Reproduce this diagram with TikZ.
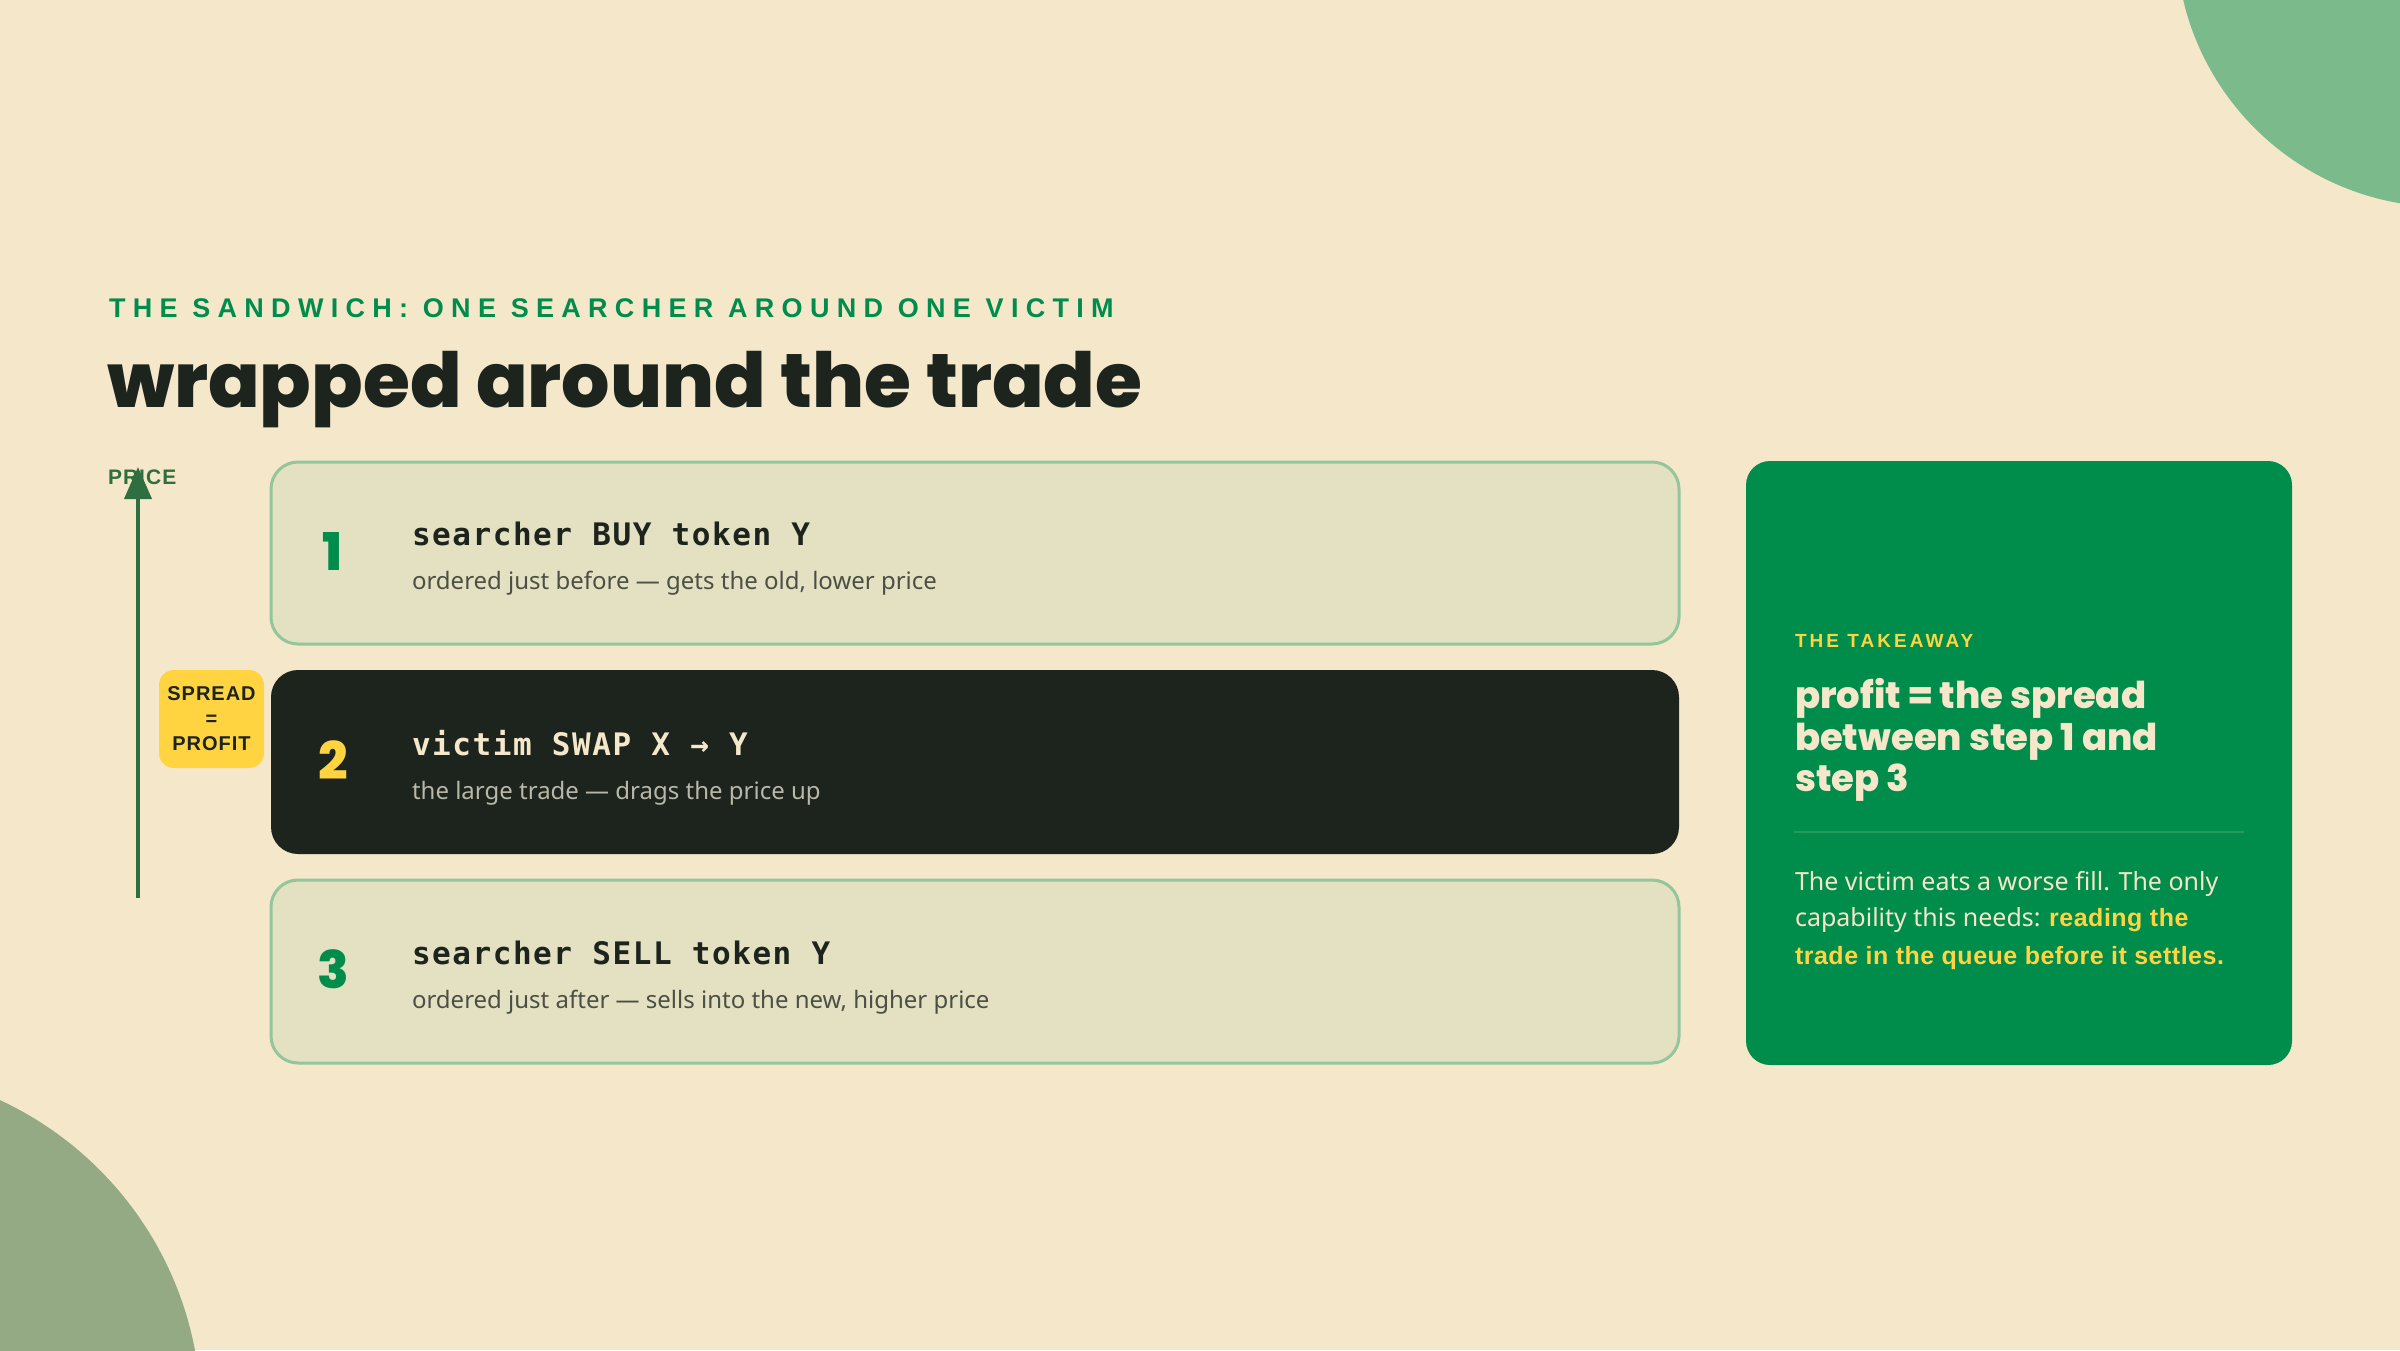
\documentclass[tikz,border=0pt]{standalone}
\usepackage{fontspec}
\usetikzlibrary{arrows.meta}
\setmainfont{Noto Sans}[BoldFont={Liberation Sans Bold}, BoldFeatures={LetterSpace=2}]
\newfontfamily\lblf{Liberation Sans}[LetterSpace=5]
\newfontfamily\monob{DejaVu Sans Mono}[LetterSpace=5]
\IfFontExistsTF{Poppins ExtraBold}{\newfontfamily\heavy{Poppins}[BoldFont={Poppins ExtraBold}]}{\newfontfamily\heavy{Poppins}}
\newfontfamily\capsf{Liberation Sans}[LetterSpace=27]
\newfontfamily\capsg{Liberation Sans}[LetterSpace=16]
\definecolor{bg}{HTML}{F5E7CA}
\definecolor{boxfill}{HTML}{E4E1C2}
\definecolor{boxline}{HTML}{94C69C}
\definecolor{ink}{HTML}{1C241D}
\definecolor{brandgreen}{HTML}{008C4B}
\definecolor{sunny}{HTML}{FFD440}
\definecolor{axisgreen}{HTML}{2F6F3F}
\definecolor{blobA}{HTML}{7BBA8A}
\definecolor{blobB}{HTML}{93AA84}
\definecolor{subgray}{HTML}{4B4F44}
\definecolor{subpale}{HTML}{B9B8A8}
\definecolor{cream}{HTML}{F5E7CA}
\definecolor{rulegreen}{HTML}{2A9A5C}
\begin{document}
\begin{tikzpicture}[x=1pt,y=-1pt,
  txt/.style={anchor=base west, inner sep=0pt, outer sep=0pt},
  stepbox/.style={rectangle, rounded corners=27pt, inner sep=0pt, minimum width=1408pt},
  lightbox/.style={stepbox, fill=boxfill, draw=boxline, line width=3pt},
  darkbox/.style={stepbox, fill=ink},
  numlbl/.style={anchor=base, inner sep=0pt, font={\fontsize{52}{56}\selectfont\heavy\bfseries}},
  monolbl/.style={txt, font={\fontsize{31}{36}\selectfont\monob\bfseries}},
  sublbl/.style={txt, font={\fontsize{24}{28}\selectfont}},
  bodylbl/.style={txt, font={\fontsize{25}{30}\selectfont}, text=cream},
  headlbl/.style={txt, font={\fontsize{37}{42}\selectfont\heavy\bfseries}, text=cream},
]
\useasboundingbox (0,0) rectangle (2400,1350);
\fill[bg] (0,0) rectangle (2400,1350);
\begin{scope}
  \clip (0,0) rectangle (2400,1350);
  \fill[blobA] (2445,-62) circle[radius=269];
  \fill[blobB] (-146,1415) circle[radius=347];
\end{scope}

% headings
\node[txt, text=brandgreen, font={\fontsize{27}{32}\selectfont\capsf\bfseries}] (kicker) at (109,317) {THE SANDWICH: ONE SEARCHER AROUND ONE VICTIM};
\node[txt, text=ink, font={\fontsize{76}{84}\selectfont\heavy\bfseries}] (title) at (107,407) {wrapped around the trade};

% step boxes
\node[lightbox, minimum height=182pt] (s1) at (975,553) {};
\node[darkbox, minimum height=184pt] (s2) at (975,762) {};
\node[lightbox, minimum height=183pt] (s3) at (975,971.5) {};

\node[numlbl, text=brandgreen] (n1) at (333,570) {1};
\node[numlbl, text=sunny] (n2) at (333,779) {2};
\node[numlbl, text=brandgreen] (n3) at (333,988.5) {3};

\node[monolbl, text=ink] (t1) at (412,545) {searcher BUY token Y};
\node[sublbl, text=subgray] (d1) at (412,589) {ordered just before — gets the old, lower price};
\node[monolbl, text=cream] (t2) at (412,755) {victim SWAP X → Y};
\node[sublbl, text=subpale] (d2) at (412,799) {the large trade — drags the price up};
\node[monolbl, text=ink] (t3) at (412,964) {searcher SELL token Y};
\node[sublbl, text=subgray] (d3) at (412,1008) {ordered just after — sells into the new, higher price};

% price axis
\node[txt, text=axisgreen, font={\fontsize{21}{24}\selectfont\lblf\bfseries}] (price) at (108,484) {PRICE};
\coordinate (axbot) at (138,898);
\coordinate (axtop) at (138,467);
\draw[axisgreen, line width=4pt, -{Triangle[length=32pt,width=27pt]}] (axbot) -- (axtop);

% spread badge
\node[rectangle, rounded corners=15pt, fill=sunny, inner sep=0pt, minimum width=105pt, minimum height=98pt,
      align=center, text=ink, font={\fontsize{20}{25}\selectfont\lblf\bfseries}] (spread) at (211.5,719) {SPREAD\\=\\PROFIT};

% takeaway panel
\node[rectangle, rounded corners=24pt, fill=brandgreen, inner sep=0pt, minimum width=546pt, minimum height=604pt] (panel) at (2019,763) {};
\node[txt, text=sunny, font={\fontsize{19}{22}\selectfont\capsg\bfseries}] (tk) at (1795,647) {THE TAKEAWAY};
\node[headlbl] (h1) at (1795,708) {profit = the spread};
\node[headlbl] (h2) at (1795,750) {between step 1 and};
\node[headlbl] (h3) at (1795,791) {step 3};
\coordinate (rl) at (1794,832);
\coordinate (rr) at (2244,832);
\draw[rulegreen, line width=1.5pt] (rl) -- (rr);
\node[bodylbl] (b1) at (1795,890) {The victim eats a worse fill. The only};
\node[bodylbl] (b2) at (1795,926.5) {capability this needs: {\bfseries\color{sunny}reading the}};
\node[bodylbl, text=sunny, font={\fontsize{25}{30}\selectfont\bfseries}] (b3) at (1795,964) {trade in the queue before it settles.};
\end{tikzpicture}
\end{document}
